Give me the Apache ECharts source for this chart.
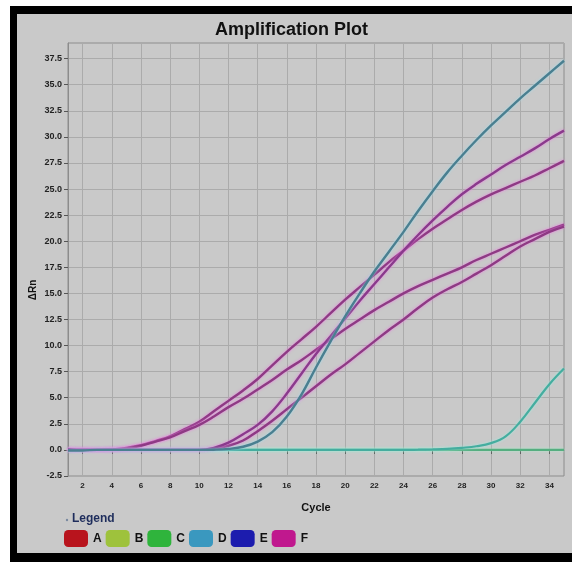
<!DOCTYPE html>
<html>
<head>
<meta charset="utf-8">
<script src="https://cdn.jsdelivr.net/npm/echarts@6/dist/echarts.min.js"></script>
<style>
  html, body { margin: 0; padding: 0; background: #ffffff; }
  #frame { position: absolute; left: 10px; top: 6px; width: 562px; height: 556px; background: #000; }
  #panel { position: absolute; left: 17px; top: 14px; width: 555px; height: 539px; background: #c9c9c9; }
  #chart { position: absolute; left: 0; top: 0; width: 572px; height: 562px; }
</style>
</head>
<body>
<div id="frame"></div>
<div id="panel"></div>
<div id="chart"></div>
<script>
// ---- data ----
const cycles = [1,2,3,4,5,6,7,8,9,10,11,12,13,14,15,16,17,18,19,20,21,22,23,24,25,26,27,28,29,30,31,32,33,34,35];
const xTickLabels = [2,4,6,8,10,12,14,16,18,20,22,24,26,28,30,32,34];
const legendNames = ['A','B','C','D','E','F'];

const seriesA = [];
const seriesB = [];
const seriesE = [];
const seriesC = [0,0,0,0,0,0,0,0,0,0,0,0,0,0,0,0,0,0,0,0,0,0,0,0,0,0,0,0,0,0,0,0,0,0,0];
const seriesD1 = [-0.05,-0.05,0,0,0,0,0,0,0,0,0.02,0.1,0.3,0.8,1.7,3.2,5.3,7.9,10.4,12.8,15.0,17.1,19.0,20.9,22.9,24.8,26.6,28.2,29.7,31.1,32.4,33.7,34.9,36.1,37.3];
const seriesD2 = [0,0,0,0,0,0,0,0,0,0,0,0,0,0,0,0,0,0,0,0,0,0,0,0,0.02,0.05,0.1,0.2,0.35,0.65,1.3,2.7,4.5,6.3,7.8];
const seriesF1 = [0.05,0,0,0.05,0.2,0.45,0.85,1.3,2.0,2.7,3.7,4.7,5.7,6.8,8.1,9.4,10.6,11.8,13.1,14.4,15.6,16.8,18.0,19.1,20.2,21.2,22.1,23.0,23.8,24.5,25.1,25.7,26.3,27.0,27.7];
const seriesF2 = [0,0,0,0.05,0.15,0.4,0.8,1.2,1.8,2.4,3.2,4.1,4.9,5.8,6.7,7.7,8.6,9.6,10.6,11.6,12.5,13.4,14.2,15.0,15.7,16.3,16.9,17.5,18.2,18.8,19.4,20.0,20.6,21.1,21.6];
const seriesF3 = [0.05,0,0,0,0,0,0,0,0,0,0.2,0.7,1.5,2.4,3.7,5.4,7.3,9.2,10.9,12.6,14.3,15.9,17.5,19.1,20.6,22.0,23.3,24.5,25.5,26.4,27.3,28.1,28.9,29.8,30.6];
const seriesF4 = [0,0,0,0,0,0,0,0,0,0,0.1,0.4,0.9,1.8,2.8,3.9,5.0,6.1,7.2,8.2,9.3,10.4,11.5,12.5,13.6,14.6,15.4,16.1,16.9,17.7,18.6,19.5,20.2,20.9,21.4];

// ---- styling ----
const legendColors = { A:'#b8141d', B:'#9ec23c', C:'#2fb43c', D:'#3a98bf', E:'#1c1cae', F:'#c0188e' };
const toPairs = arr => arr.map((v, i) => [cycles[i], v]);

function lineSeries(name, values, color, halo, width, z) {
  return {
    name: name,
    type: 'line',
    data: toPairs(values),
    smooth: 0.4,
    showSymbol: false,
    symbol: 'none',
    z: z,
    itemStyle: { color: legendColors[name] },
    lineStyle: { color: color, width: width, shadowColor: halo, shadowBlur: 3 },
    emphasis: { disabled: true }
  };
}

const chart = echarts.init(document.getElementById('chart'), null, { renderer: 'canvas' });
const option = {
  backgroundColor: 'transparent',
  animation: false,
  title: {
    text: 'Amplification Plot',
    left: 210, top: 16,
    textStyle: { fontFamily: 'Liberation Sans', fontSize: 18, fontWeight: 'bold', color: '#111' }
  },
  graphic: [
    { type: 'circle', shape: { cx: 67, cy: 520, r: 1.2 }, style: { fill: '#7a8aa0' } },
    { type: 'text', left: 72, top: 513,
      style: { text: 'Legend', font: 'bold 12px "Liberation Sans"', fill: '#1e2d5c' } },
    { type: 'text', x: 33, y: 290, rotation: Math.PI / 2,
      style: { text: 'ΔRn', font: 'bold 10px "Liberation Sans"', fill: '#111', align: 'center', verticalAlign: 'middle' } }
  ],
  legend: {
    data: legendNames.map(n => ({ name: n, itemStyle: { color: legendColors[n], borderWidth: 0 } })),
    left: 64, top: 530,
    orient: 'horizontal',
    icon: 'roundRect',
    itemWidth: 24, itemHeight: 17, itemGap: 4,
    padding: 0,
    selectedMode: false,
    textStyle: { fontFamily: 'Liberation Sans', fontSize: 12, fontWeight: 'bold', color: '#111' }
  },
  grid: {
    left: 68, top: 43, right: 8, bottom: 86,
    show: true, borderColor: '#8c8c8c', borderWidth: 1, backgroundColor: 'transparent',
    containLabel: false
  },
  xAxis: {
    type: 'value', min: 1, max: 35,
    name: 'Cycle', nameLocation: 'middle', nameGap: 26,
    nameTextStyle: { fontFamily: 'Liberation Sans', fontSize: 11, fontWeight: 'bold', color: '#111' },
    axisLine: { show: true, lineStyle: { color: '#8c8c8c' } },
    axisTick: { show: true, length: 4, customValues: xTickLabels, lineStyle: { color: '#555' } },
    axisLabel: { customValues: xTickLabels, fontFamily: 'Liberation Sans', fontSize: 8, fontWeight: 'bold', color: '#222', margin: 6 },
    splitLine: { show: true, lineStyle: { color: '#ababab', width: 1 } }
  },
  yAxis: {
    type: 'value', min: -2.5, max: 39, interval: 2.5,
    axisLine: { show: true, lineStyle: { color: '#8c8c8c' } },
    axisTick: { show: true, length: 4, lineStyle: { color: '#555' } },
    axisLabel: {
      showMaxLabel: false,
      fontFamily: 'Liberation Sans', fontSize: 9, fontWeight: 'bold', color: '#222', margin: 6,
      formatter: v => (Math.abs(v / 2.5 - Math.round(v / 2.5)) < 1e-6 ? v.toFixed(1) : '')
    },
    splitLine: { show: true, lineStyle: { color: '#ababab', width: 1 } }
  },
  series: [
    lineSeries('A', seriesA, '#b8141d', 'rgba(0,0,0,0)', 2, 2),
    lineSeries('B', seriesB, '#9ec23c', 'rgba(0,0,0,0)', 2, 2),
    lineSeries('C', seriesC, '#55ae80', 'rgba(170,235,200,0.9)', 2.2, 2),
    lineSeries('D', seriesD2, '#45ad9f', 'rgba(160,235,225,0.9)', 2.2, 3),
    lineSeries('E', seriesE, '#1c1cae', 'rgba(0,0,0,0)', 2, 2),
    lineSeries('F', seriesF1, '#8e3a84', 'rgba(235,120,225,0.9)', 2.4, 4),
    lineSeries('F', seriesF2, '#8e3a84', 'rgba(235,120,225,0.9)', 2.4, 4),
    lineSeries('F', seriesF4, '#8e3a84', 'rgba(235,120,225,0.9)', 2.4, 4),
    lineSeries('F', seriesF3, '#8a3a8c', 'rgba(235,120,225,0.9)', 2.4, 4),
    lineSeries('D', seriesD1, '#4a7f90', 'rgba(160,220,235,0.9)', 2.4, 5)
  ]
};
chart.setOption(option);
</script>
</body>
</html>
